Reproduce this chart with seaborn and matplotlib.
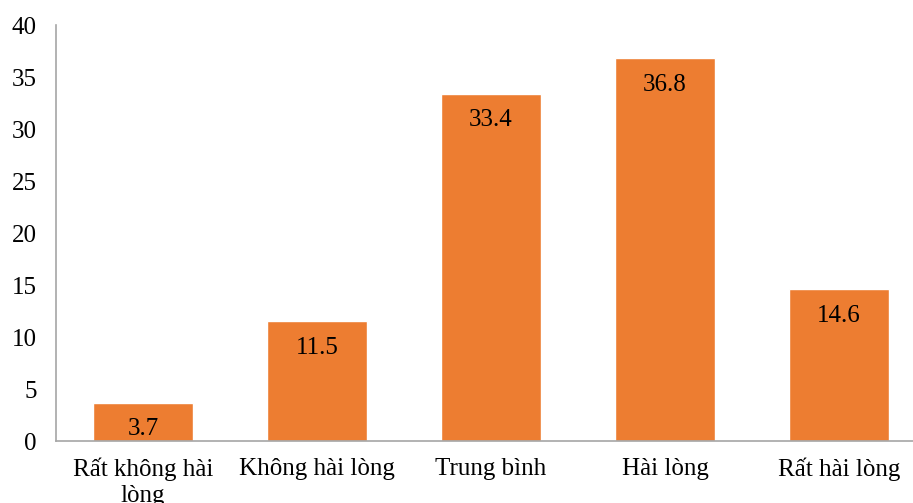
import matplotlib
matplotlib.use("Agg")
import matplotlib.pyplot as plt
import seaborn as sns
import pandas as pd

categories = ["Rất không hài\nlòng", "Không hài lòng", "Trung bình", "Hài lòng", "Rất hài lòng"]
values = [3.7, 11.5, 33.4, 36.8, 14.6]
yticks = [0, 5, 10, 15, 20, 25, 30, 35, 40]

BAR_COLOR = "#ED7D31"
SPINE_COLOR = "#A6A6A6"

sns.set_style("white")
plt.rcParams["font.family"] = ["Liberation Serif", "DejaVu Serif"]

df = pd.DataFrame({"cat": categories, "val": values})

fig = plt.figure(figsize=(9.13, 5.03), dpi=100)
ax = fig.add_axes([56 / 913, 1 - 441 / 503, 870 / 913, 416 / 503])

sns.barplot(data=df, x="cat", y="val", color=BAR_COLOR, width=0.575,
            saturation=1, ax=ax)

for i, v in enumerate(values):
    ax.annotate(f"{v}", xy=(i, v), xytext=(0, -19), textcoords="offset points",
                ha="center", va="center", fontsize=18, color="black")

ax.set_ylim(0, 40)
ax.set_yticks(yticks)
ax.set_xlim(-0.5, 4.5)
ax.set_xlabel("")
ax.set_ylabel("")
ax.tick_params(axis="both", length=0, labelsize=18, colors="black")
ax.tick_params(axis="y", pad=14)
ax.tick_params(axis="x", pad=12)
for lbl in ax.get_xticklabels():
    lbl.set_linespacing(1.25)

for s in ["top", "right"]:
    ax.spines[s].set_visible(False)
for s in ["left", "bottom"]:
    ax.spines[s].set_color(SPINE_COLOR)
    ax.spines[s].set_linewidth(1.2)

fig.savefig("out.png", dpi=100)
plt.close(fig)
